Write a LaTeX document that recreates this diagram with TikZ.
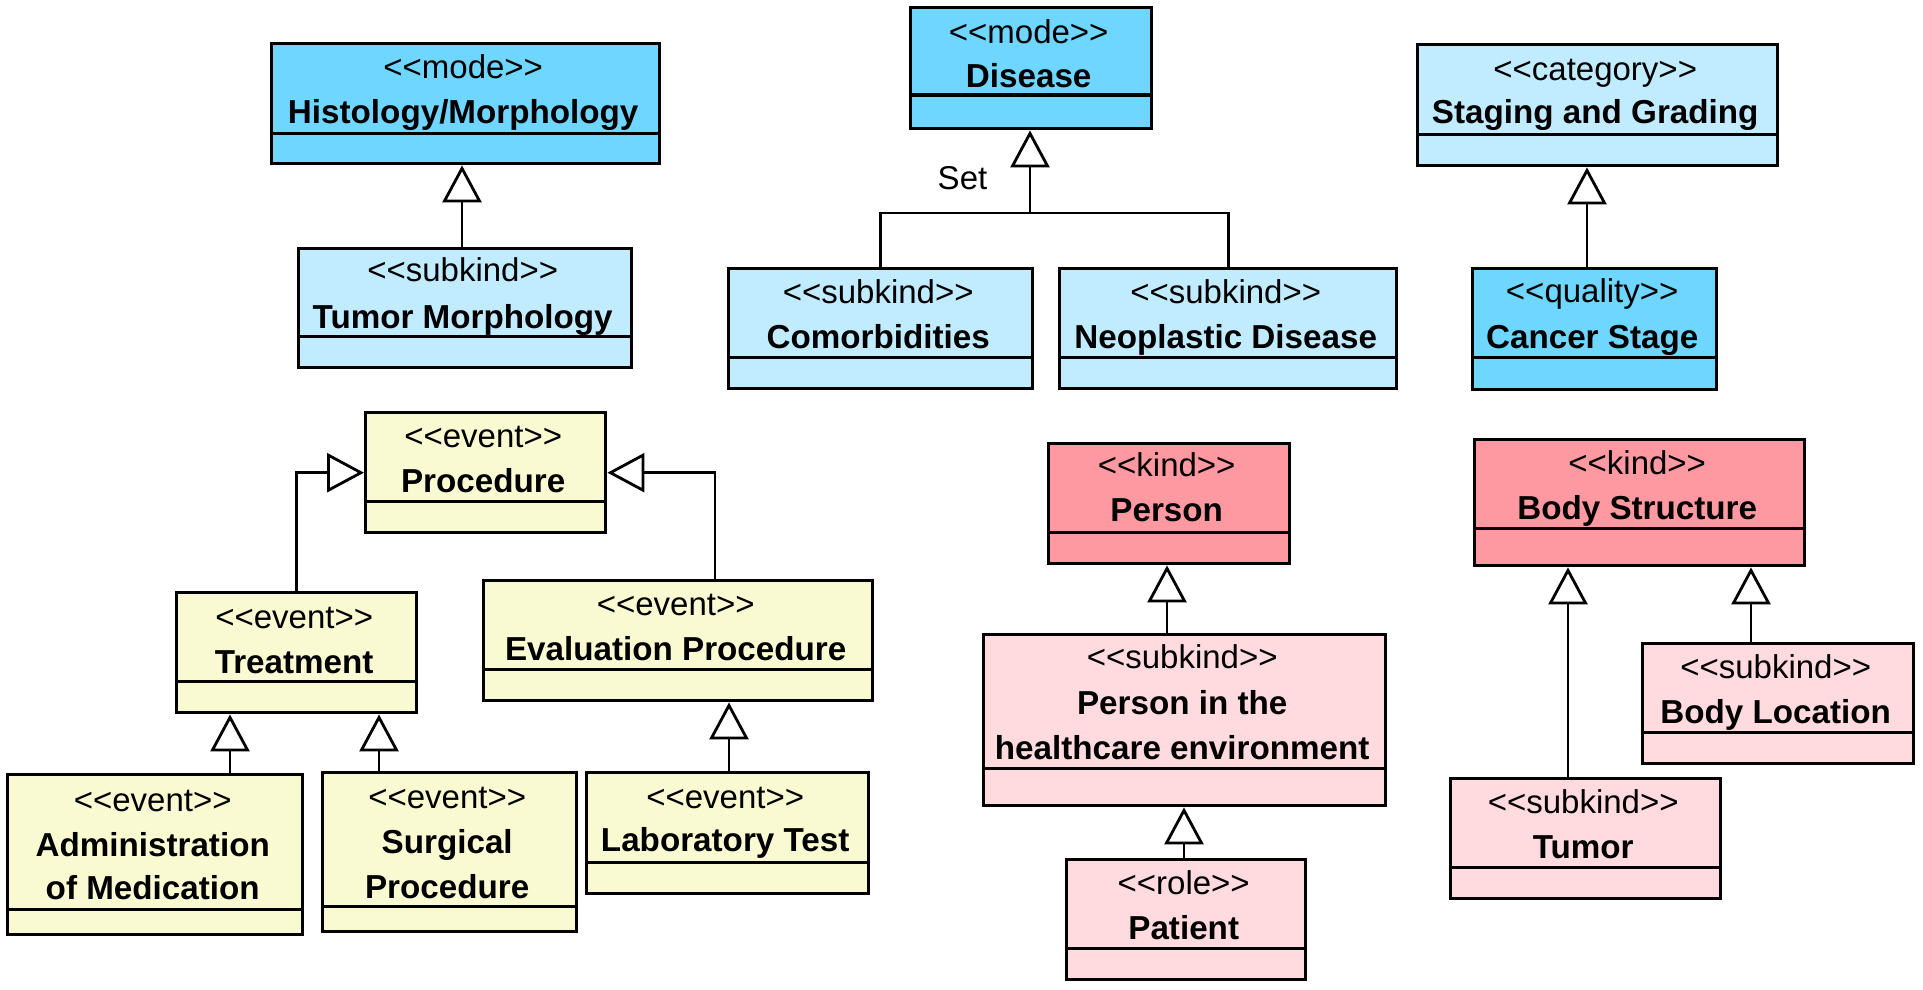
\documentclass[tikz,border=0pt]{standalone}
\usepackage{fontspec}
\setmainfont{Liberation Sans}[Ligatures=TeXOff]
\usetikzlibrary{arrows.meta}
\definecolor{bluedark}{RGB}{110,214,255}
\definecolor{bluelight}{RGB}{193,236,255}
\definecolor{yel}{RGB}{250,250,210}
\definecolor{pinkdark}{RGB}{255,153,161}
\definecolor{pinklight}{RGB}{255,218,222}
\tikzset{
  umlbox/.style={draw=black, line width=3.4pt, rectangle, inner sep=0pt, anchor=north west},
  divider/.style={line width=3pt},
  stereo/.style={font=\fontsize{33}{39}\selectfont, inner sep=0pt, text height=23.5pt, text depth=0pt, xshift=-2.5pt},
  ctitle/.style={font=\fontsize{33.2}{39}\selectfont\bfseries, inner sep=0pt, text height=23.8pt, text depth=0pt, xshift=-2.5pt},
  gen/.style={line width=2.8pt, -{Triangle[length=37pt,width=39pt,fill=white]}},
  plain/.style={line width=2.8pt},
}
\newcommand{\umlclass}[7]{% name, fill, x1, y1, x2, y2, ydiv
  \pgfmathsetmacro\clsW{#5-#3}\pgfmathsetmacro\clsH{#6-#4}
  \node[umlbox, fill=#2, minimum width=\clsW pt, minimum height=\clsH pt] (#1) at (#3,#4) {};
  \draw[divider] (#1.west |- 0,#7) -- (#1.east |- 0,#7);
}
\newcommand{\stereot}[3]{\node[stereo] (#1-s) at (#1.north |- 0,#2) {#3};}
\newcommand{\ctl}[4]{\node[ctitle] (#1-#2) at (#1.north |- 0,#3) {#4};}
\begin{document}
\begin{tikzpicture}[x=1pt,y=-1pt]
\useasboundingbox (0,0) rectangle (1923,990);

% ---- blue group
\umlclass{hist}{bluedark}{270}{42}{658}{162}{133}
\stereot{hist}{67}{<<mode>>}
\ctl{hist}{a}{112}{Histology/Morphology}

\umlclass{tumm}{bluelight}{297}{247}{630}{366}{336}
\stereot{tumm}{270}{<<subkind>>}
\ctl{tumm}{a}{317}{Tumor Morphology}

\umlclass{dis}{bluedark}{909}{6}{1150}{127}{95}
\stereot{dis}{32}{<<mode>>}
\ctl{dis}{a}{76}{Disease}

\umlclass{com}{bluelight}{727}{267}{1031}{387}{357}
\stereot{com}{292}{<<subkind>>}
\ctl{com}{a}{337}{Comorbidities}

\umlclass{neo}{bluelight}{1058}{267}{1395}{387}{357}
\stereot{neo}{292}{<<subkind>>}
\ctl{neo}{a}{337}{Neoplastic Disease}

\umlclass{stag}{bluelight}{1416}{43}{1776}{164}{134}
\stereot{stag}{69}{<<category>>}
\ctl{stag}{a}{112}{Staging and Grading}

\umlclass{canc}{bluedark}{1471}{267}{1715}{388}{357}
\stereot{canc}{291}{<<quality>>}
\ctl{canc}{a}{337}{Cancer Stage}

% ---- yellow group
\umlclass{proc}{yel}{364}{411}{604}{531}{501}
\stereot{proc}{436}{<<event>>}
\ctl{proc}{a}{481}{Procedure}

\umlclass{treat}{yel}{175}{591}{415}{711}{681}
\stereot{treat}{617}{<<event>>}
\ctl{treat}{a}{662}{Treatment}

\umlclass{eval}{yel}{482}{579}{871}{699}{669}
\stereot{eval}{604}{<<event>>}
\ctl{eval}{a}{649}{Evaluation Procedure}

\umlclass{admin}{yel}{6}{773}{301}{933}{909}
\stereot{admin}{800}{<<event>>}
\ctl{admin}{a}{845}{Administration}
\ctl{admin}{b}{888}{of Medication}

\umlclass{surg}{yel}{321}{771}{575}{930}{906}
\stereot{surg}{797}{<<event>>}
\ctl{surg}{a}{842}{Surgical}
\ctl{surg}{b}{887}{Procedure}

\umlclass{lab}{yel}{585}{771}{867}{892}{862}
\stereot{lab}{797}{<<event>>}
\ctl{lab}{a}{840}{Laboratory Test}

% ---- pink group
\umlclass{person}{pinkdark}{1047}{442}{1288}{562}{532}
\stereot{person}{465}{<<kind>>}
\ctl{person}{a}{510}{Person}

\umlclass{phe}{pinklight}{982}{633}{1384}{804}{768}
\stereot{phe}{657}{<<subkind>>}
\ctl{phe}{a}{703}{Person in the}
\ctl{phe}{b}{748}{healthcare environment}

\umlclass{patient}{pinklight}{1065}{858}{1304}{978}{948}
\stereot{patient}{883}{<<role>>}
\ctl{patient}{a}{928}{Patient}

\umlclass{body}{pinkdark}{1473}{438}{1803}{564}{528}
\stereot{body}{463}{<<kind>>}
\ctl{body}{a}{508}{Body Structure}

\umlclass{tumor}{pinklight}{1449}{777}{1719}{897}{867}
\stereot{tumor}{802}{<<subkind>>}
\ctl{tumor}{a}{847}{Tumor}

\umlclass{bloc}{pinklight}{1641}{642}{1912}{762}{732}
\stereot{bloc}{667}{<<subkind>>}
\ctl{bloc}{a}{712}{Body Location}

% ---- connectors
\draw[gen] (tumm.north -| 462,0) -- (hist.south -| 462,0);

\coordinate (dj) at (1030,213);
\draw[plain] (com.north) |- (dj);
\draw[plain] (neo.north) |- (dj);
\draw[gen] (dj) -- (dis.south -| dj);
\node[stereo] (setlbl) at (965,178) {Set};

\draw[gen] (canc.north -| 1587,0) -- (stag.south -| 1587,0);

\draw[gen] (treat.north) |- (proc.west);
\draw[gen] (eval.north -| 715,0) |- (proc.east);
\draw[gen] (admin.north -| 230,0) -- (treat.south -| 230,0);
\draw[gen] (surg.north -| 379,0) -- (treat.south -| 379,0);
\draw[gen] (lab.north -| 729,0) -- (eval.south -| 729,0);

\draw[gen] (phe.north -| 1167,0) -- (person.south -| 1167,0);
\draw[gen] (patient.north -| 1184,0) -- (phe.south -| 1184,0);
\draw[gen] (tumor.north -| 1568,0) -- (body.south -| 1568,0);
\draw[gen] (bloc.north -| 1751,0) -- (body.south -| 1751,0);
\end{tikzpicture}
\end{document}
